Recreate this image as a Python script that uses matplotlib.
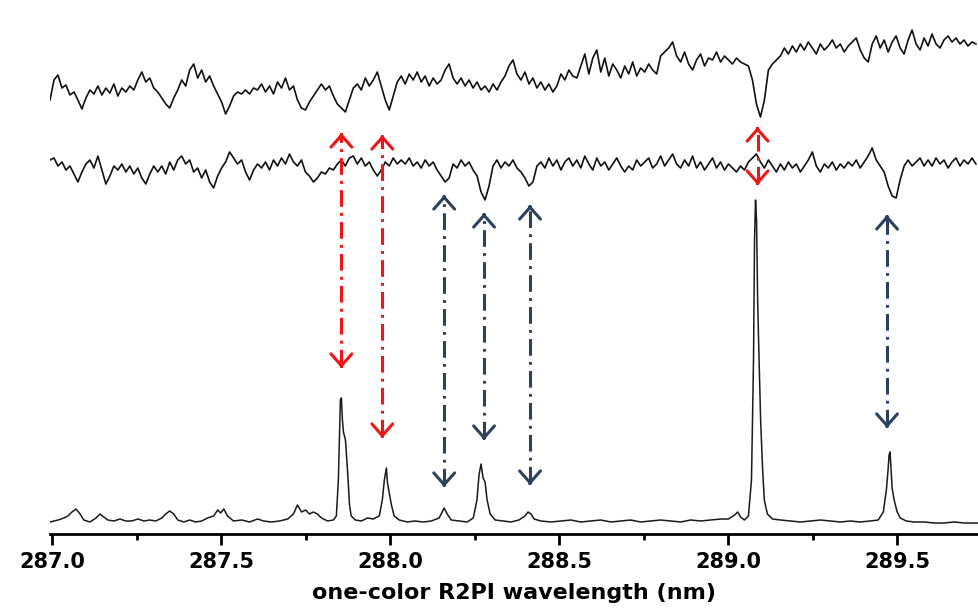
import numpy as np
import matplotlib
matplotlib.use("Agg")
import matplotlib.pyplot as plt

plt.rcParams['lines.scale_dashes'] = False

# --- top trace (ion-dip, offset removed), 233 samples from 286.994 to 289.733 nm
top_trace = [
    100, 80, 75, 88, 85, 95, 92, 100, 109, 98,
    90, 94, 86, 95, 88, 93, 84, 96, 88, 92,
    86, 90, 80, 72, 82, 78, 88, 92, 98, 104,
    108, 98, 90, 80, 86, 70, 64, 78, 70, 82,
    76, 86, 94, 102, 114, 106, 96, 92, 94, 90,
    94, 88, 90, 84, 92, 86, 94, 82, 88, 78,
    90, 86, 100, 108, 110, 102, 96, 90, 84, 90,
    86, 96, 104, 108, 112, 100, 88, 84, 90, 78,
    86, 80, 72, 86, 100, 110, 96, 82, 76, 84,
    74, 80, 72, 82, 76, 86, 78, 84, 80, 70,
    64, 78, 84, 78, 86, 80, 88, 82, 90, 86,
    92, 84, 90, 82, 76, 66, 60, 74, 80, 72,
    84, 78, 88, 82, 90, 84, 92, 86, 74, 80,
    70, 76, 78, 66, 54, 74, 58, 50, 72, 58,
    76, 64, 70, 78, 66, 74, 62, 76, 68, 72,
    64, 70, 74, 56, 52, 48, 42, 56, 62, 52,
    64, 70, 60, 54, 66, 58, 60, 52, 62, 56,
    60, 64, 58, 62, 64, 66, 80, 104, 117, 100,
    70, 64, 60, 56, 48, 54, 46, 52, 44, 50,
    42, 48, 54, 44, 50, 46, 40, 48, 44, 52,
    46, 42, 38, 50, 58, 62, 44, 36, 48, 40,
    52, 42, 36, 48, 54, 40, 30, 44, 50, 38,
    46, 34, 44, 48, 40, 36, 42, 38, 44, 40,
    46, 42, 44,
]

# --- middle trace, same sampling
mid_trace = [
    160, 158, 166, 162, 170, 166, 174, 182, 172, 164,
    160, 168, 156, 170, 184, 176, 166, 170, 164, 172,
    166, 174, 168, 178, 184, 174, 166, 172, 166, 174,
    162, 170, 160, 156, 164, 160, 172, 168, 178, 170,
    182, 188, 176, 168, 162, 152, 158, 164, 160, 172,
    180, 170, 164, 168, 162, 170, 160, 166, 158, 164,
    154, 162, 166, 160, 172, 176, 182, 178, 172, 174,
    168, 170, 164, 160, 166, 158, 156, 164, 158, 166,
    162, 170, 176, 170, 162, 166, 158, 164, 160, 164,
    158, 166, 162, 168, 160, 166, 162, 170, 176, 182,
    178, 164, 168, 160, 166, 162, 170, 176, 192, 200,
    186, 166, 160, 168, 162, 166, 160, 168, 172, 178,
    186, 182, 166, 162, 168, 158, 166, 160, 170, 162,
    158, 166, 160, 168, 156, 164, 170, 158, 166, 162,
    170, 164, 158, 166, 172, 166, 170, 160, 166, 162,
    158, 168, 164, 156, 166, 160, 154, 164, 168, 160,
    166, 156, 168, 162, 170, 164, 158, 168, 162, 170,
    164, 168, 172, 166, 170, 162, 158, 154, 162, 168,
    160, 166, 172, 164, 170, 162, 168, 164, 172, 166,
    160, 152, 166, 172, 164, 168, 162, 170, 164, 168,
    162, 166, 160, 168, 162, 156, 148, 160, 166, 172,
    186, 196, 198, 180, 166, 160, 166, 162, 158, 166,
    160, 166, 158, 164, 160, 168, 162, 158, 166, 160,
    164, 158, 164,
]

# --- one-color R2PI spectrum (wavelength nm, intensity)
r2pi_wl = [
    286.994, 287.018, 287.035, 287.047, 287.059, 287.071, 287.083, 287.094, 287.112, 287.130,
    287.142, 287.153, 287.165, 287.183, 287.201, 287.218, 287.236, 287.254, 287.272, 287.289,
    287.307, 287.325, 287.336, 287.348, 287.360, 287.372, 287.390, 287.407, 287.425, 287.443,
    287.460, 287.478, 287.490, 287.499, 287.508, 287.519, 287.537, 287.561, 287.584, 287.608,
    287.626, 287.649, 287.673, 287.697, 287.714, 287.726, 287.738, 287.750, 287.762, 287.773,
    287.785, 287.797, 287.815, 287.832, 287.841, 287.847, 287.853, 287.856, 287.859, 287.862,
    287.868, 287.874, 287.880, 287.885, 287.897, 287.915, 287.933, 287.950, 287.968, 287.977,
    287.983, 287.989, 287.992, 287.998, 288.004, 288.012, 288.027, 288.051, 288.074, 288.098,
    288.122, 288.145, 288.154, 288.160, 288.169, 288.181, 288.204, 288.228, 288.246, 288.257,
    288.263, 288.269, 288.275, 288.281, 288.287, 288.296, 288.311, 288.334, 288.358, 288.381,
    288.399, 288.408, 288.417, 288.426, 288.446, 288.476, 288.505, 288.535, 288.564, 288.594,
    288.623, 288.653, 288.682, 288.712, 288.741, 288.771, 288.800, 288.830, 288.860, 288.889,
    288.919, 288.948, 288.978, 289.001, 289.019, 289.028, 289.037, 289.048, 289.060, 289.069,
    289.075, 289.078, 289.081, 289.084, 289.087, 289.090, 289.096, 289.102, 289.107, 289.116,
    289.131, 289.155, 289.184, 289.214, 289.243, 289.273, 289.302, 289.332, 289.361, 289.391,
    289.420, 289.444, 289.459, 289.468, 289.473, 289.476, 289.479, 289.482, 289.485, 289.491,
    289.500, 289.509, 289.527, 289.550, 289.580, 289.609, 289.639, 289.668, 289.698, 289.727,
    289.742,
]
r2pi_int = [
    0, 2, 4, 6, 10, 13, 8, 2, 0, 4,
    8, 5, 2, 1, 3, 1, 1, 3, 1, 2,
    1, 4, 8, 11, 8, 2, 0, 2, 0, 1,
    4, 6, 12, 9, 13, 6, 1, 2, 0, 3,
    1, 0, 1, 3, 8, 17, 10, 12, 8, 10,
    8, 4, 1, 2, 6, 42, 122, 124, 102, 90,
    82, 52, 17, 6, 2, 1, 4, 3, 6, 22,
    42, 54, 40, 28, 17, 6, 2, 0, 1, 0,
    1, 4, 10, 14, 8, 2, 1, 0, 4, 22,
    47, 58, 44, 40, 22, 8, 2, 1, 0, 2,
    6, 10, 8, 3, 1, 0, 1, 2, 0, 1,
    2, 0, 1, 2, 0, 1, 2, 1, 0, 2,
    1, 2, 3, 3, 7, 10, 5, 2, 6, 42,
    162, 282, 322, 302, 226, 182, 102, 52, 22, 8,
    3, 2, 1, 0, 1, 2, 1, 0, 1, 0,
    1, 2, 10, 32, 52, 67, 70, 52, 34, 22,
    10, 4, 1, 0, 0, -1, -1, 0, -1, -1,
    -1,
]

# arrows: wavelength, upper tip, lower tip (plot units)
red_wl = [287.856, 287.977, 289.087]
red_top = [401, 399, 407]
red_bot = [166, 96, 349]
blue_wl = [288.160, 288.278, 288.414, 289.470]
blue_top = [339, 321, 329, 319]
blue_bot = [47, 94, 49, 106]

ticks = [287.0, 287.5, 288.0, 288.5, 289.0, 289.5]
tick_labels = ['287.0', '287.5', '288.0', '288.5', '289.0', '289.5']

# vertical offsets of the stacked traces
top_base, mid_base, r2pi_base = 534 - 92, 534 - 165, 12
top_center, mid_center = 92, 165

grid_wl = np.linspace(286.994, 289.733, len(top_trace))

fig = plt.figure(figsize=(9.79, 6.10), dpi=100)
ax = fig.add_axes([50 / 979, 76 / 610, 929 / 979, 534 / 610])

ax.plot(grid_wl, top_base + top_center - np.array(top_trace), color='#111111', lw=1.2)
ax.plot(grid_wl, mid_base + mid_center - np.array(mid_trace), color='#111111', lw=1.2)
ax.plot(r2pi_wl, r2pi_base + np.array(r2pi_int), color='#1a1a1a', lw=1.1)

redColor = '#f01414'
blueColor = '#2c415e'


def double_arrow(x, y_top, y_bot, color):
    ax.plot([x, x], [y_bot + 2, y_top - 2], color=color, lw=2.2, dashes=(12, 4.5, 2, 4.5))
    for tip, back in ((y_top, y_top - 2), (y_bot, y_bot + 2)):
        ax.annotate('', xy=(x, tip), xytext=(x, back),
                    arrowprops=dict(arrowstyle='->,head_length=0.85,head_width=0.75',
                                    color=color, lw=2.2, mutation_scale=10,
                                    shrinkA=0, shrinkB=0))


for x, t, b in zip(red_wl, red_top, red_bot):
    double_arrow(x, t, b, redColor)
for x, t, b in zip(blue_wl, blue_top, blue_bot):
    double_arrow(x, t, b, blueColor)

ax.set_xlim(286.994, 289.742)
ax.set_ylim(0, 534)
for s in ('top', 'right', 'left'):
    ax.spines[s].set_visible(False)
ax.spines['bottom'].set_linewidth(2.0)
ax.set_yticks([])
ax.set_xticks(ticks)
ax.set_xticklabels(tick_labels, fontsize=15, fontweight='bold')
ax.set_xticks([287.25, 287.75, 288.25, 288.75, 289.25], minor=True)
ax.tick_params(axis='x', which='major', length=8, width=2, pad=5)
ax.tick_params(axis='x', which='minor', length=4, width=2)
ax.set_xlabel('one-color R2PI wavelength (nm)', fontsize=16, fontweight='bold', labelpad=8)

fig.savefig('out.png', dpi=100)
